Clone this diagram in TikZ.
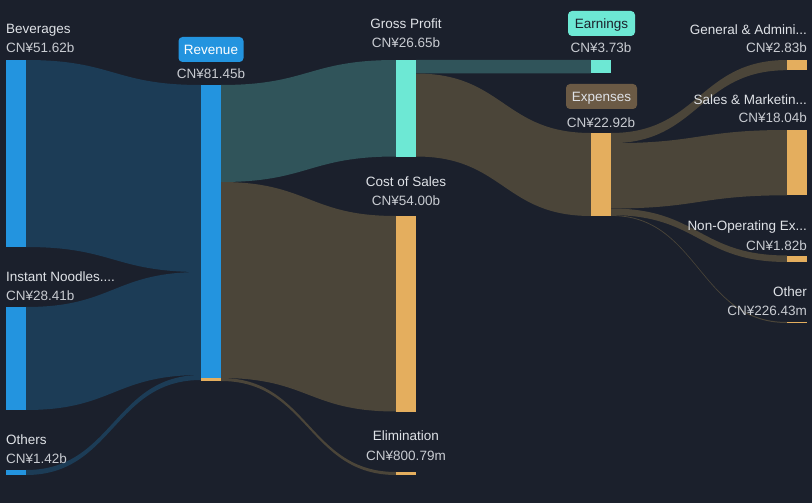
\documentclass[tikz,border=0pt]{standalone}
\usepackage{fontspec}
\setmainfont{Liberation Sans}
\usepackage{xcolor}
\usepackage{tikz}
\usetikzlibrary{calc}

\definecolor{fond}{HTML}{1B202C}
\definecolor{barbleu}{HTML}{2394DF}
\definecolor{fluxbleu}{HTML}{1C3C56}
\definecolor{barturq}{HTML}{6DE8D4}
\definecolor{fluxturq}{HTML}{30545A}
\definecolor{barorange}{HTML}{E4AE5E}
\definecolor{fluxbrun}{HTML}{4B4539}
\definecolor{etiqbrun}{HTML}{6B5A45}
\definecolor{texte}{HTML}{DFE2E7}
\definecolor{valeur}{HTML}{C9CCD2}

% bande de Sankey : x1, haut1, bas1, x2, haut2, bas2, couleur
\newcommand{\sankeyband}[7]{%
  \fill[#7] (#1,#2) .. controls ({(#1+#4)/2},#2) and ({(#1+#4)/2},#5) .. (#4,#5)
    -- (#4,#6) .. controls ({(#1+#4)/2},#6) and ({(#1+#4)/2},#3) .. (#1,#3) -- cycle;}

\tikzset{
  lbl/.style={text=texte, font=\fontsize{13.5}{16}\selectfont, inner sep=0pt},
  val/.style={text=valeur, font=\fontsize{13.5}{16}\selectfont, inner sep=0pt},
  etiq/.style={rounded corners=4pt, inner sep=0pt, text height=10pt, text depth=0pt,
    minimum height=25pt, font=\fontsize{13.5}{16}\selectfont}
}

\begin{document}
\begin{tikzpicture}[x=1pt, y=-1pt]
        % Fond et cadre
        \useasboundingbox (0,0) rectangle (812,503);
        \fill[fond] (0,0) rectangle (812,503);

        % Flux vers le chiffre d'affaires
        \sankeyband{26}{60}{247}{201}{85}{272}{fluxbleu}
        \sankeyband{26}{307}{410}{201}{272}{375}{fluxbleu}
        \sankeyband{26}{470}{475}{201}{375}{380}{fluxbleu}

        % Flux sortant du chiffre d'affaires
        \sankeyband{221}{85}{182}{396}{60}{156.5}{fluxturq}
        \sankeyband{221}{182}{378}{396}{216}{411.5}{fluxbrun}
        \sankeyband{221}{378}{381}{396}{472}{475}{fluxbrun}

        % Flux de la marge brute
        \sankeyband{416}{60}{73.5}{591}{60}{73.5}{fluxturq}
        \sankeyband{416}{73.5}{156.5}{591}{133}{216}{fluxbrun}

        % Flux des charges
        \sankeyband{611}{133}{143.2}{787}{60}{70.2}{fluxbrun}
        \sankeyband{611}{143.2}{208.5}{787}{130}{195.3}{fluxbrun}
        \sankeyband{611}{208.5}{215.1}{787}{255.5}{262}{fluxbrun}
        \sankeyband{611}{215.1}{215.9}{787}{322}{323}{fluxbrun}

        % Barres
        \fill[barbleu] (6,60) rectangle (26,247);
        \fill[barbleu] (6,307) rectangle (26,410);
        \fill[barbleu] (6,470) rectangle (26,475);
        \fill[barbleu] (201,85) rectangle (221,378);
        \fill[barorange] (201,378) rectangle (221,381);
        \fill[barturq] (396,60) rectangle (416,156.5);
        \fill[barorange] (396,216) rectangle (416,411.5);
        \fill[barorange] (396,472) rectangle (416,475);
        \fill[barturq] (591,60) rectangle (611,73.5);
        \fill[barorange] (591,133) rectangle (611,216);
        \fill[barorange] (787,60) rectangle (807,70.2);
        \fill[barorange] (787,130) rectangle (807,195.3);
        \fill[barorange] (787,255.5) rectangle (807,262);
        \fill[barorange] (787,322) rectangle (807,323);

        % Textes de gauche
        \node[lbl, anchor=base west] (bev) at (6,34) {Beverages};
        \node[val, anchor=base west] (bevv) at (6,53) {CN¥51.62b};
        \node[lbl, anchor=base west] (noo) at (6,281.7) {Instant Noodles....};
        \node[val, anchor=base west] (noov) at (6,300.7) {CN¥28.41b};
        \node[lbl, anchor=base west] (oth) at (6,444.7) {Others};
        \node[val, anchor=base west] (othv) at (6,463.7) {CN¥1.42b};

        % Textes du milieu
        \node[etiq, fill=barbleu, text=white, minimum width=65pt] (rev) at (211,49.5) {Revenue};
        \node[val, anchor=base] (revv) at (211,79) {CN¥81.45b};
        \node[lbl, anchor=base] (gp) at (406,29) {Gross Profit};
        \node[val, anchor=base] (gpv) at (406,48) {CN¥26.65b};
        \node[lbl, anchor=base] (cos) at (406,186) {Cost of Sales};
        \node[val, anchor=base] (cosv) at (406,205) {CN¥54.00b};
        \node[lbl, anchor=base] (eli) at (406,440.7) {Elimination};
        \node[val, anchor=base] (eliv) at (406,460) {CN¥800.79m};
        \node[etiq, fill=barturq, text=fond, minimum width=67pt] (ear) at (601.5,23.5) {Earnings};
        \node[val, anchor=base] (earv) at (601,53) {CN¥3.73b};
        \node[etiq, fill=etiqbrun, text=texte, minimum width=71pt] (exp) at (601.5,96.5) {Expenses};
        \node[val, anchor=base] (expv) at (601,127.7) {CN¥22.92b};

        % Textes de droite
        \node[lbl, anchor=base east] (gna) at (807,34.7) {General \& Admini...};
        \node[val, anchor=base east] (gnav) at (807,53) {CN¥2.83b};
        \node[lbl, anchor=base east] (snm) at (807,104) {Sales \& Marketin...};
        \node[val, anchor=base east] (snmv) at (807,123) {CN¥18.04b};
        \node[lbl, anchor=base east] (nox) at (807,230.7) {Non-Operating Ex...};
        \node[val, anchor=base east] (noxv) at (807,250) {CN¥1.82b};
        \node[lbl, anchor=base east] (otr) at (807,296.7) {Other};
        \node[val, anchor=base east] (otrv) at (807,315.7) {CN¥226.43m};
    \end{tikzpicture}
\end{document}
